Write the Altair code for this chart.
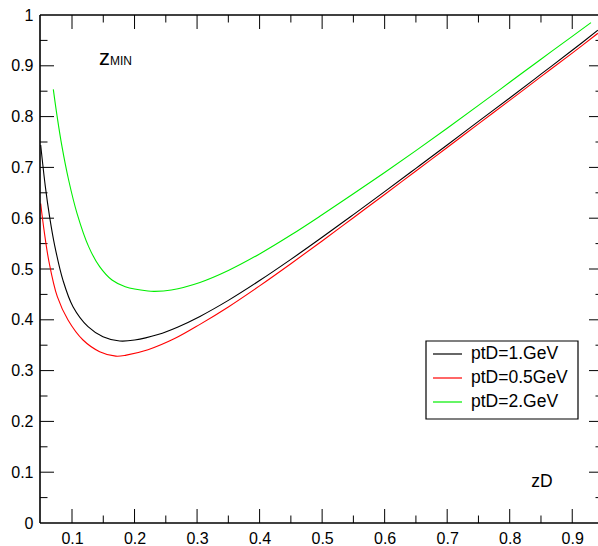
import altair as alt
import pandas as pd

# ---- data ----
series_names = ["ptD=1.GeV", "ptD=0.5GeV", "ptD=2.GeV"]
series_colors = ["#000000", "#ff0000", "#00ee00"]

x_black = [0.0499, 0.0573, 0.0643, 0.0723, 0.0856, 0.1016, 0.1256, 0.1495, 0.1762, 0.2002, 0.2375,
           0.2695, 0.3046, 0.35, 0.40, 0.45, 0.50, 0.55, 0.60, 0.65, 0.70, 0.75, 0.80, 0.85, 0.90, 0.941]
y_black = [0.744, 0.6626, 0.6017, 0.5461, 0.4776, 0.4258, 0.3865, 0.3668, 0.3583, 0.3602, 0.3711,
           0.3860, 0.4067, 0.4382, 0.4772, 0.5189, 0.5624, 0.6071, 0.6523, 0.6981, 0.7441, 0.7906,
           0.8367, 0.8835, 0.9305, 0.970]

x_red = [0.0499, 0.0552, 0.0632, 0.0765, 0.0936, 0.1176, 0.1442, 0.1700, 0.1868, 0.2215, 0.2641,
         0.3046, 0.35, 0.40, 0.45, 0.50, 0.55, 0.60, 0.65, 0.70, 0.75, 0.80, 0.85, 0.90, 0.941]
y_red = [0.629, 0.577, 0.514, 0.4455, 0.3996, 0.3602, 0.3373, 0.3285, 0.3305, 0.3410, 0.3630,
         0.3910, 0.4253, 0.4668, 0.5104, 0.5552, 0.6010, 0.6467, 0.6930, 0.7391, 0.7856, 0.8320,
         0.8786, 0.9250, 0.9640]

x_green = [0.0701, 0.0760, 0.0840, 0.0946, 0.1080, 0.1266, 0.1442, 0.1639, 0.1852, 0.2215, 0.2321,
           0.2588, 0.3046, 0.35, 0.40, 0.45, 0.50, 0.55, 0.60, 0.65, 0.70, 0.75, 0.80, 0.85, 0.90, 0.93]
y_green = [0.8537, 0.8020, 0.7408, 0.6752, 0.6096, 0.5440, 0.5046, 0.4783, 0.4652, 0.4567, 0.4560,
           0.4587, 0.4735, 0.4970, 0.5296, 0.5668, 0.6068, 0.6480, 0.6900, 0.7330, 0.7770, 0.8220,
           0.8675, 0.9130, 0.9580, 0.9850]

x_major = [0.1, 0.2, 0.3, 0.4, 0.5, 0.6, 0.7, 0.8, 0.9]
x_minor = [0.15, 0.25, 0.35, 0.45, 0.55, 0.65, 0.75, 0.85]
y_major = [0.0, 0.1, 0.2, 0.3, 0.4, 0.5, 0.6, 0.7, 0.8, 0.9, 1.0]
y_minor = [0.05, 0.15, 0.25, 0.35, 0.45, 0.55, 0.65, 0.75, 0.85, 0.95]

x_title = "zD"
y_title_main = "z"
y_title_sub = "MIN"

# ---- layout ----
W, H = 558, 508
FONT = "Liberation Sans"
xs = alt.Scale(domain=[0.0488, 0.9412], nice=False, zero=False)
ys = alt.Scale(domain=[0.0, 1.0], nice=False, zero=False)

rows = []
for name, xv, yv in [(series_names[0], x_black, y_black),
                     (series_names[1], x_red, y_red),
                     (series_names[2], x_green, y_green)]:
    for i, (a, b) in enumerate(zip(xv, yv)):
        rows.append({"series": name, "x": a, "y": b, "i": i})
df = pd.DataFrame(rows)

color = alt.Color("series:N", scale=alt.Scale(domain=series_names, range=series_colors), legend=None)

lines = alt.Chart(df).mark_line(strokeWidth=1.1, clip=True, interpolate="catmull-rom").encode(
    x=alt.X("x:Q", scale=xs,
            axis=alt.Axis(values=x_major, format="~g", ticks=False, domain=False, grid=False,
                          labelFontSize=16, labelFont=FONT, labelColor="black", labelPadding=7,
                          labelOverlap=False, labelFlush=False, title=None)),
    y=alt.Y("y:Q", scale=ys,
            axis=alt.Axis(values=y_major, format="~g", ticks=False, domain=False, grid=False,
                          labelFontSize=16, labelFont=FONT, labelColor="black", labelPadding=7,
                          labelOverlap=False, labelFlush=False, title=None)),
    color=color,
    order="i:Q",
)

xmaj = pd.DataFrame({"v": x_major})
xmin = pd.DataFrame({"v": x_minor})
ymaj = pd.DataFrame({"v": y_major[1:-1]})
ymin = pd.DataFrame({"v": y_minor})

def xt(d, y0, y1):
    return alt.Chart(d).mark_rule(color="black", strokeWidth=1).encode(
        x=alt.X("v:Q", scale=xs), y=alt.value(y0), y2=alt.value(y1))

def yt(d, x0, x1):
    return alt.Chart(d).mark_rule(color="black", strokeWidth=1).encode(
        y=alt.Y("v:Q", scale=ys), x=alt.value(x0), x2=alt.value(x1))

ticks = [
    xt(xmaj, H, H - 14), xt(xmin, H, H - 7.5),
    xt(xmaj, 0, 14), xt(xmin, 0, 7.5),
    yt(ymaj, 0, 14), yt(ymin, 0, 7.5),
    yt(ymaj, W - 9, W), yt(ymin, W - 2.5, W),
]

frame_df = pd.DataFrame({"k": [0]})
frame = [
    alt.Chart(frame_df).mark_rule(color="black", strokeWidth=1.6).encode(
        x=alt.value(0), y=alt.value(0), y2=alt.value(H)),
    alt.Chart(frame_df).mark_rule(color="black", strokeWidth=1.6).encode(
        x=alt.value(0), x2=alt.value(W), y=alt.value(H)),
    alt.Chart(frame_df).mark_rule(color="black", strokeWidth=1.6).encode(
        x=alt.value(0), x2=alt.value(W), y=alt.value(0)),
]

# axis titles
titles = [
    alt.Chart(frame_df).mark_text(text=x_title, font=FONT, fontSize=17.5, color="black",
                                  align="center", baseline="alphabetic").encode(
        x=alt.value(502), y=alt.value(472)),
    alt.Chart(frame_df).mark_text(text=y_title_main, font=FONT, fontSize=22, color="black",
                                  align="left", baseline="alphabetic").encode(
        x=alt.value(59), y=alt.value(50)),
    alt.Chart(frame_df).mark_text(text=y_title_sub, font=FONT, fontSize=12, color="black",
                                  align="left", baseline="alphabetic").encode(
        x=alt.value(70), y=alt.value(50)),
]

# legend (box + entries)
leg_df = pd.DataFrame({"series": series_names, "row": [0, 1, 2]})
leg_df["ly"] = 339 + 24 * leg_df["row"]
legend_box = alt.Chart(frame_df).mark_rect(fill="white", stroke="black", strokeWidth=1.2).encode(
    x=alt.value(386), x2=alt.value(538), y=alt.value(326), y2=alt.value(404))
legend_lines = alt.Chart(leg_df).mark_rule(strokeWidth=1.2).encode(
    x=alt.value(393), x2=alt.value(422), y=alt.Y("ly:Q", scale=None), color=color)
legend_text = alt.Chart(leg_df).mark_text(font=FONT, fontSize=17.5, color="black",
                                          align="left", baseline="middle").encode(
    x=alt.value(431), y=alt.Y("ly:Q", scale=None), text="series:N")

chart = alt.layer(
    *ticks, lines, *frame, *titles, legend_box, legend_lines, legend_text
).properties(
    width=W, height=H,
    autosize=alt.AutoSizeParams(type="none"),
    padding={"left": 40, "top": 15, "right": 0, "bottom": 23},
    background="white",
).configure_view(stroke=None)

chart.save("out.html", embed_options={"renderer": "svg", "actions": False})
